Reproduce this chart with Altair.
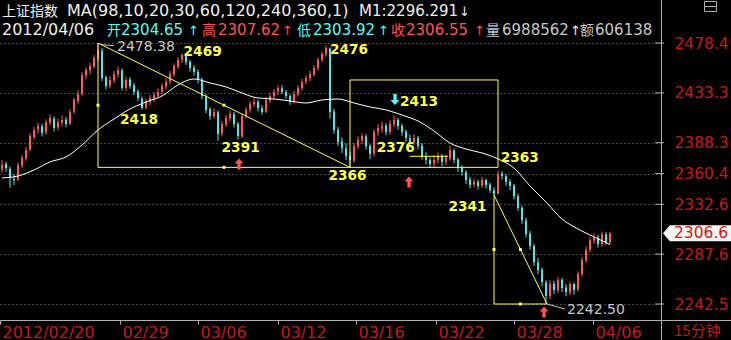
import altair as alt
import pandas as pd

# ---------------- data (15-min candles, aggregated) ----------------
opens = [
    2364.0, 2369.0, 2364.8, 2355.5, 2355.0, 2367.5, 2374.0, 2382.0, 2393.5, 2400.5,
    2403.0, 2397.5, 2406.0, 2410.0, 2402.0, 2406.5, 2409.0, 2405.5, 2416.5, 2426.0,
    2432.5, 2449.0, 2453.5, 2457.0, 2464.5, 2471.5, 2447.5, 2440.0, 2444.5, 2450.0,
    2453.5, 2438.0, 2445.5, 2440.0, 2434.5, 2428.0, 2420.0, 2425.5, 2428.0, 2431.0,
    2434.5, 2439.0, 2443.5, 2450.0, 2457.0, 2463.5, 2467.0, 2461.5, 2456.0, 2452.5,
    2445.5, 2430.0, 2418.5, 2412.0, 2415.5, 2396.5, 2405.0, 2410.5, 2414.0, 2405.5,
    2394.0, 2412.5, 2418.0, 2423.0, 2425.5, 2419.5, 2416.5, 2426.5, 2430.0, 2434.5,
    2437.5, 2434.0, 2430.5, 2425.5, 2432.0, 2437.5, 2443.5, 2446.5, 2450.0, 2455.5,
    2463.0, 2468.0, 2473.5, 2416.5, 2400.0, 2389.5, 2383.0, 2376.5, 2372.0, 2385.0,
    2390.5, 2394.0, 2385.5, 2378.5, 2398.5, 2401.0, 2403.5, 2398.0, 2405.0, 2409.0,
    2403.5, 2398.5, 2392.0, 2389.0, 2392.5, 2385.5, 2376.0, 2372.5, 2369.5, 2372.5,
    2376.5, 2371.0, 2374.0, 2381.5, 2373.0, 2365.5, 2361.5, 2355.0, 2350.5, 2353.0,
    2349.5, 2354.5, 2350.5, 2345.0, 2342.0, 2360.5, 2358.0, 2353.0, 2349.5, 2340.0,
    2329.5, 2318.0, 2306.0, 2295.0, 2280.0, 2273.5, 2262.0, 2249.5, 2260.5, 2255.0,
    2264.5, 2257.5, 2253.0, 2260.5, 2255.5, 2269.5, 2282.0, 2291.5, 2300.0, 2302.5,
    2296.5, 2305.5, 2298.0]
highs = [
    2372.5, 2371.0, 2366.5, 2360.0, 2370.5, 2377.0, 2384.5, 2397.0, 2402.5, 2406.0,
    2405.5, 2409.5, 2414.0, 2412.0, 2410.0, 2413.0, 2411.5, 2418.5, 2429.0, 2435.5,
    2452.0, 2456.5, 2460.5, 2467.5, 2478.38, 2474.0, 2449.0, 2448.5, 2453.0, 2457.0,
    2455.5, 2448.0, 2447.5, 2442.5, 2436.5, 2430.0, 2428.0, 2431.5, 2434.0, 2437.5,
    2442.0, 2446.5, 2453.0, 2460.0, 2465.5, 2469.0, 2468.5, 2463.0, 2458.5, 2454.5,
    2447.0, 2432.5, 2420.5, 2419.5, 2417.5, 2408.0, 2413.5, 2417.5, 2416.0, 2407.0,
    2415.0, 2420.5, 2426.0, 2428.5, 2427.0, 2422.0, 2429.5, 2433.5, 2437.0, 2440.0,
    2440.5, 2436.0, 2432.0, 2435.0, 2440.5, 2446.0, 2449.5, 2453.5, 2458.5, 2465.5,
    2471.0, 2476.0, 2474.5, 2419.0, 2402.5, 2393.0, 2387.5, 2380.0, 2388.0, 2394.0,
    2397.0, 2396.0, 2387.0, 2400.5, 2405.0, 2407.5, 2406.0, 2408.5, 2413.0, 2410.5,
    2405.5, 2400.0, 2395.5, 2396.0, 2394.5, 2388.0, 2379.5, 2375.0, 2377.0, 2379.5,
    2378.0, 2377.5, 2385.5, 2383.0, 2374.5, 2368.0, 2363.5, 2357.5, 2356.0, 2355.0,
    2357.5, 2356.0, 2352.0, 2348.0, 2363.0, 2362.5, 2360.0, 2355.5, 2351.0, 2342.0,
    2331.5, 2320.5, 2308.5, 2297.0, 2284.0, 2275.5, 2264.0, 2264.0, 2263.5, 2267.0,
    2266.0, 2260.5, 2263.0, 2262.0, 2272.0, 2285.0, 2294.5, 2303.0, 2306.5, 2305.0,
    2308.0, 2307.5, 2307.62]
lows = [
    2361.0, 2362.0, 2347.5, 2350.0, 2353.5, 2365.5, 2372.0, 2380.5, 2391.0, 2396.5,
    2394.0, 2395.5, 2404.0, 2398.5, 2399.5, 2403.0, 2402.5, 2404.0, 2414.5, 2423.5,
    2430.5, 2445.5, 2450.0, 2455.5, 2462.0, 2444.0, 2436.5, 2437.5, 2442.0, 2447.0,
    2435.5, 2435.0, 2437.0, 2431.5, 2426.0, 2418.0, 2418.5, 2422.0, 2425.0, 2428.5,
    2432.0, 2436.5, 2441.0, 2448.0, 2455.0, 2460.5, 2458.5, 2452.5, 2449.0, 2442.0,
    2427.5, 2415.0, 2409.0, 2410.0, 2390.0, 2394.0, 2402.5, 2407.5, 2402.0, 2391.0,
    2392.5, 2410.0, 2415.5, 2420.5, 2416.5, 2413.5, 2415.0, 2424.0, 2428.0, 2431.5,
    2432.0, 2428.0, 2422.5, 2423.5, 2430.0, 2435.5, 2441.0, 2444.0, 2448.0, 2453.5,
    2461.0, 2466.0, 2410.0, 2396.5, 2385.5, 2379.0, 2372.5, 2366.0, 2370.0, 2382.5,
    2387.0, 2382.0, 2373.5, 2376.0, 2394.5, 2397.5, 2395.0, 2395.5, 2402.5, 2400.0,
    2394.5, 2389.0, 2385.5, 2386.5, 2382.0, 2373.0, 2368.5, 2365.5, 2366.0, 2369.5,
    2367.0, 2368.0, 2372.0, 2369.5, 2362.0, 2358.5, 2351.0, 2347.0, 2348.0, 2346.0,
    2347.5, 2347.0, 2343.0, 2341.0, 2341.5, 2355.0, 2349.5, 2345.5, 2337.0, 2326.5,
    2315.0, 2302.5, 2291.5, 2277.0, 2269.5, 2258.5, 2242.5, 2247.0, 2251.5, 2252.5,
    2253.5, 2249.5, 2250.5, 2251.0, 2253.5, 2267.0, 2279.5, 2289.0, 2297.0, 2293.5,
    2294.5, 2296.0, 2296.5]
closes = [
    2368.1, 2365.4, 2356.4, 2354.6, 2368.1, 2374.5, 2381.7, 2394.4, 2399.8, 2403.4,
    2397.1, 2407.0, 2410.6, 2401.6, 2407.0, 2408.8, 2405.2, 2416.1, 2426.9, 2432.3,
    2449.5, 2454.0, 2457.6, 2464.9, 2472.1, 2446.8, 2439.6, 2445.0, 2450.4, 2454.0,
    2437.8, 2445.0, 2439.6, 2434.1, 2428.7, 2419.7, 2425.1, 2428.7, 2431.4, 2434.1,
    2439.6, 2443.2, 2450.4, 2457.6, 2463.1, 2467.6, 2461.3, 2455.8, 2452.2, 2445.0,
    2430.5, 2417.9, 2412.4, 2416.1, 2396.2, 2405.2, 2410.6, 2414.2, 2405.2, 2394.4,
    2412.4, 2417.9, 2423.3, 2425.1, 2419.7, 2416.1, 2426.9, 2430.5, 2434.1, 2437.8,
    2434.1, 2430.5, 2425.1, 2432.3, 2437.8, 2443.2, 2446.8, 2450.4, 2455.8, 2463.1,
    2468.5, 2473.9, 2416.1, 2399.8, 2388.9, 2383.5, 2376.3, 2372.7, 2385.3, 2390.7,
    2394.4, 2385.3, 2378.1, 2398.0, 2401.6, 2403.4, 2398.0, 2405.2, 2408.8, 2403.4,
    2398.0, 2392.5, 2388.9, 2392.5, 2385.3, 2376.3, 2372.7, 2369.0, 2372.7, 2376.3,
    2370.9, 2374.5, 2381.7, 2372.7, 2365.4, 2361.8, 2354.6, 2350.1, 2352.8, 2349.2,
    2354.6, 2350.1, 2345.5, 2341.9, 2360.0, 2358.2, 2352.8, 2349.2, 2340.1, 2329.3,
    2318.4, 2305.8, 2294.9, 2280.5, 2273.2, 2262.4, 2249.7, 2260.6, 2255.1, 2264.2,
    2257.0, 2253.3, 2260.6, 2255.1, 2269.6, 2282.3, 2291.3, 2300.3, 2302.2, 2296.7,
    2305.8, 2298.5, 2306.55]

ma_index = list(range(0, 153, 4))
ma_values = [
    2356.4, 2358.2, 2363.6, 2370.9, 2375.4, 2386.2, 2399.8, 2409.7, 2418.8, 2425.1,
    2430.5, 2440.5, 2445.9, 2442.3, 2438.7, 2433.2, 2428.7, 2427.8, 2426.0, 2424.2,
    2426.9, 2427.8, 2424.2, 2420.6, 2417.9, 2413.3, 2407.9, 2398.9, 2388.0, 2382.6,
    2379.0, 2373.6, 2365.4, 2349.2, 2334.7, 2319.3, 2310.3, 2303.1, 2296.3]

y_ticks = [2478.4, 2433.3, 2388.3, 2360.4, 2332.6, 2287.6, 2242.5]
x_tick_index = [-0.5, 29.5, 49.0, 69.0, 88.5, 108.5, 128.0, 147.75]
x_tick_labels = ["2012/02/20", "02/29", "03/06", "03/12", "03/16", "03/22", "03/28", "04/06"]

# drawn trend annotations (index, price)
seg_x1 = [24, 24, 24, 87, 87, 124, 102, 123, 123, 123]
seg_y1 = [2478.38, 2478.38, 2366.0, 2366.0, 2445.0, 2445.0, 2376.0, 2341.0, 2341.0, 2242.5]
seg_x2 = [87, 24, 124, 87, 124, 124, 111.5, 136.25, 123, 136.25]
seg_y2 = [2366.0, 2366.0, 2366.0, 2445.0, 2445.0, 2366.0, 2376.0, 2242.5, 2242.5, 2242.5]
mid_x = [24, 55.5, 55.5, 123, 129.6, 129.6]
mid_y = [2422.2, 2422.2, 2366.0, 2291.75, 2291.75, 2242.5]

lbl_text = ["2418", "2469", "2391", "2476", "2413", "2366", "2376", "2363", "2341"]
lbl_x = [29.5, 45.4, 54.9, 82.0, 99.5, 81.6, 93.7, 124.7, 111.6]
lbl_y = [2408.8, 2470.5, 2383.2, 2472.1, 2425.3, 2358.2, 2383.2, 2374.2, 2330.4]

ext_text = ["2478.38", "2242.50"]
ext_x = [28.75, 141.25]
ext_y = [2475.0, 2237.1]
lead_x1 = [24.5, 136.25]
lead_y1 = [2477.0, 2242.5]
lead_x2 = [28.0, 140.75]
lead_y2 = [2476.0, 2238.0]

up_arrow_x = [59.25, 101.75, 135.5]
up_arrow_y = [2369.0, 2352.8, 2235.3]
down_arrow_x = [98.25]
down_arrow_y = [2427.3]

last_price = 2306.55
last_label = "2306.6"

hdr_name = "上证指数"
hdr_ma = "MA(98,10,20,30,60,120,240,360,1)"
hdr_m1 = "M1:2296.291"
hdr_date = "2012/04/06"
hdr_open = "2304.65"
hdr_high = "2307.62"
hdr_low = "2303.92"
hdr_close = "2306.55"
hdr_vol = "6988562"
hdr_amt = "606138"
period_label = "15分钟"

# ---------------- styles ----------------
UP = "#ff5a5a"
DOWN = "#54e6e6"
YEL = "#ffff4c"
AXRED = "#c41a1a"
HRED = "#ff5454"
HCYAN = "#54fcfc"
WHITE = "#f0f0f0"
GREYTXT = "#c8c8c8"
LINEGREY = "#b0b0b0"
GRID = "#8a8a8a"
FONT = "DejaVu Sans"
CJK = "Noto Sans CJK SC"

X_DOMAIN = [-0.5, 164.75]
Y_DOMAIN = [2228.04, 2484.73]
xs = alt.Scale(domain=X_DOMAIN, nice=False, zero=False)
ys = alt.Scale(domain=Y_DOMAIN, nice=False, zero=False)

idx_list = ",".join(str(v) for v in x_tick_index)
lab_list = ",".join("'" + s + "'" for s in x_tick_labels)
label_expr = f"[{lab_list}][indexof([{idx_list}], datum.value)]"

x_axis = alt.Axis(orient="bottom", values=x_tick_index, labelExpr=label_expr, labelAlign="left",
                  labelOffset=2, labelColor=AXRED, labelFont=FONT, labelFontSize=16, labelPadding=0,
                  ticks=True, tickSize=4, tickColor=LINEGREY, domainColor=LINEGREY, grid=False,
                  labelOverlap=False, labelFlush=False, title=None)
y_axis = alt.Axis(orient="right", values=y_ticks, format=".1f", title=None, ticks=False,
                  domain=True, domainColor=LINEGREY, labelColor=AXRED, labelFont=FONT,
                  labelFontSize=15.5, labelPadding=13, labelAlign="left", labelBaseline="middle",
                  grid=True, gridColor=GRID, gridDash=[1, 3], gridWidth=1,
                  labelOverlap=False, labelFlush=False)


def X(field):
    return alt.X(field, scale=xs, axis=x_axis)


def Y(field):
    return alt.Y(field, scale=ys, axis=y_axis)


candles = pd.DataFrame({
    "i": list(range(len(closes))),
    "open": opens, "high": highs, "low": lows, "close": closes,
})
candles["dir"] = ["up" if c >= o else "down" for o, c in zip(opens, closes)]
color_enc = alt.Color("dir:N", scale=alt.Scale(domain=["up", "down"], range=[UP, DOWN]), legend=None)

wick = alt.Chart(candles).mark_rule(strokeWidth=1).encode(
    x=X("i:Q"), y=Y("low:Q"), y2="high:Q", color=color_enc)
body = alt.Chart(candles).mark_rule(strokeWidth=2).encode(
    x=X("i:Q"), y=Y("open:Q"), y2="close:Q", color=color_enc)

ma = alt.Chart(pd.DataFrame({"i": ma_index, "v": ma_values})).mark_line(
    color="#ffffff", strokeWidth=1, interpolate="monotone").encode(x=X("i:Q"), y=Y("v:Q"))

segs = alt.Chart(pd.DataFrame({"x1": seg_x1, "y1": seg_y1, "x2": seg_x2, "y2": seg_y2})).mark_rule(
    color=YEL, strokeWidth=1).encode(x=X("x1:Q"), x2="x2:Q", y=Y("y1:Q"), y2="y2:Q")

mids = alt.Chart(pd.DataFrame({"x": mid_x, "y": mid_y})).mark_square(
    color=YEL, size=9, opacity=1, filled=True).encode(x=X("x:Q"), y=Y("y:Q"))

labels = alt.Chart(pd.DataFrame({"x": lbl_x, "y": lbl_y, "t": lbl_text})).mark_text(
    align="left", baseline="middle", color=YEL, font=FONT, fontSize=13.7, fontWeight="bold").encode(
    x=X("x:Q"), y=Y("y:Q"), text="t:N")

ext_labels = alt.Chart(pd.DataFrame({"x": ext_x, "y": ext_y, "t": ext_text})).mark_text(
    align="left", baseline="middle", color=GREYTXT, font=FONT, fontSize=14).encode(
    x=X("x:Q"), y=Y("y:Q"), text="t:N")

leads = alt.Chart(pd.DataFrame({"x1": lead_x1, "y1": lead_y1, "x2": lead_x2, "y2": lead_y2})).mark_rule(
    color=GREYTXT, strokeWidth=1).encode(x=X("x1:Q"), x2="x2:Q", y=Y("y1:Q"), y2="y2:Q")

UP_PATH = "M0,-1L0.8,-0.1L0.3,-0.1L0.3,1L-0.3,1L-0.3,-0.1L-0.8,-0.1Z"
DOWN_PATH = "M0,1L0.8,0.1L0.3,0.1L0.3,-1L-0.3,-1L-0.3,0.1L-0.8,0.1Z"
up_arrows = alt.Chart(pd.DataFrame({"x": up_arrow_x, "y": up_arrow_y})).mark_point(
    shape=UP_PATH, size=121, filled=True, color=HRED, opacity=1, strokeWidth=0).encode(
    x=X("x:Q"), y=Y("y:Q"))
down_arrows = alt.Chart(pd.DataFrame({"x": down_arrow_x, "y": down_arrow_y})).mark_point(
    shape=DOWN_PATH, size=121, filled=True, color=HCYAN, opacity=1, strokeWidth=0).encode(
    x=X("x:Q"), y=Y("y:Q"))

# right-axis tick dashes
tick_dashes = alt.Chart(pd.DataFrame({"y": y_ticks})).mark_rule(color=LINEGREY, strokeWidth=1).encode(
    x=alt.value(655), x2=alt.value(664), y=Y("y:Q"))

# current price marker
MARK_PATH = "M-1,0L-0.8,-0.235L1,-0.235L1,0.235L-0.8,0.235Z"
price_df = pd.DataFrame({"p": [last_price], "t": [last_label]})
marker = alt.Chart(price_df).mark_point(shape=MARK_PATH, size=4624, filled=True, color="#f4f4f0",
                                        opacity=1, strokeWidth=0).encode(
    x=alt.value(697), y=Y("p:Q"))
marker_txt = alt.Chart(price_df).mark_text(align="left", baseline="middle", color="#d01818",
                                           font=FONT, fontSize=15.5).encode(
    x=alt.value(674), y=Y("p:Q"), text="t:N")

one = pd.DataFrame({"k": [0]})
frame_v = alt.Chart(one).mark_rule(color=LINEGREY, strokeWidth=1).encode(
    x=alt.value(661.5), y=alt.value(-36), y2=alt.value(304))
frame_h = alt.Chart(one).mark_rule(color=LINEGREY, strokeWidth=1).encode(
    x=alt.value(661), x2=alt.value(731), y=alt.value(284.5))
icon = alt.Chart(one).mark_rect(fill=None, stroke=LINEGREY, strokeWidth=1).encode(
    x=alt.value(704.5), x2=alt.value(716.5), y=alt.value(-34.5), y2=alt.value(-24.5))
icon_line = alt.Chart(one).mark_rule(color=LINEGREY, strokeWidth=1).encode(
    x=alt.value(704.5), x2=alt.value(716.5), y=alt.value(-29.5))


def txt(s, x, y, color, size=15, font=FONT, weight="normal"):
    return alt.Chart(pd.DataFrame({"t": [s]})).mark_text(
        align="left", baseline="alphabetic", color=color, font=font, fontSize=size,
        fontWeight=weight).encode(x=alt.value(x), y=alt.value(y), text="t:N")


header = [
    txt(hdr_name, 2, -20, WHITE, 14, CJK),
    txt(hdr_ma, 67, -20, WHITE, 16),
    txt(hdr_m1, 359, -20, WHITE, 15),
    txt("↓", 459, -20, WHITE, 13),
    txt(hdr_date, 2, -1, WHITE, 16),
    txt("开", 107, -1, HCYAN, 14, CJK),
    txt(hdr_open, 121, -1, HCYAN),
    txt("↑", 188, -1, HCYAN, 13),
    txt("高", 202, -1, HRED, 14, CJK),
    txt(hdr_high, 218, -1, HRED),
    txt("↑", 282, -1, HRED, 13),
    txt("低", 297, -1, HCYAN, 14, CJK),
    txt(hdr_low, 313, -1, HCYAN),
    txt("↑", 378, -1, HCYAN, 13),
    txt("收", 391, -1, HRED, 14, CJK),
    txt(hdr_close, 406, -1, HRED),
    txt("↑", 474, -1, HRED, 13),
    txt("量", 486, -1, GREYTXT, 14, CJK),
    txt(hdr_vol, 502, -1, GREYTXT),
    txt("↑", 570, -1, WHITE, 13),
    txt("额", 580, -1, GREYTXT, 14, CJK),
    txt(hdr_amt, 595, -1, GREYTXT),
    txt(period_label, 674, 300, AXRED, 15, CJK),
]

chart = alt.layer(
    wick, body, ma, segs, mids, leads, labels, ext_labels, up_arrows, down_arrows,
    tick_dashes, frame_v, frame_h, marker, marker_txt, icon, icon_line, *header
).properties(
    width=661, height=284, background="#000000",
    padding={"left": 0, "top": 36, "right": 70, "bottom": 20},
    autosize=alt.AutoSizeParams(type="none"),
).configure_view(stroke=None)

chart.save("out.html", embed_options={"renderer": "svg", "actions": False})
